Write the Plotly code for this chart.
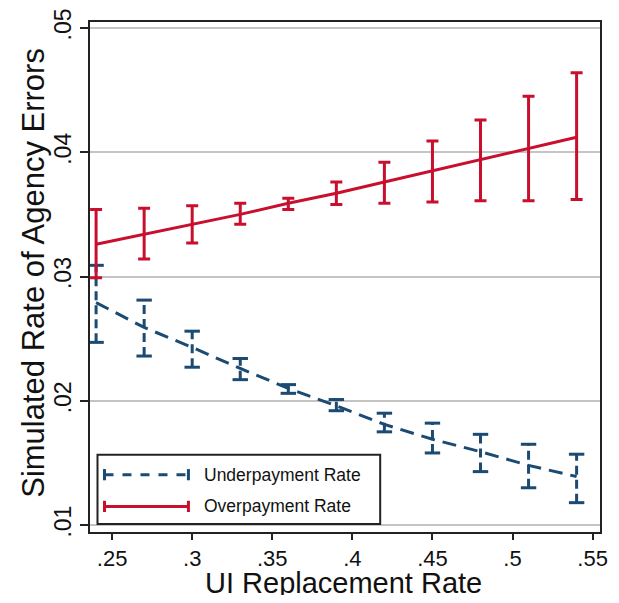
import plotly.graph_objects as go

# ---- data ----
replacement_rate = [0.24, 0.27, 0.30, 0.33, 0.36, 0.39, 0.42, 0.45, 0.48, 0.51, 0.54]

under_rate = [0.0279, 0.0259, 0.0243, 0.0226, 0.0210, 0.0196, 0.0181, 0.0169, 0.0159, 0.0148, 0.0139]
under_hi   = [0.0309, 0.0281, 0.0256, 0.0234, 0.0213, 0.0201, 0.0190, 0.0182, 0.0173, 0.0165, 0.0157]
under_lo   = [0.0247, 0.0236, 0.0227, 0.0217, 0.0206, 0.0192, 0.0175, 0.0158, 0.0143, 0.0130, 0.0118]

over_rate = [0.0326, 0.0334, 0.0342, 0.0350, 0.0359, 0.0367, 0.0376, 0.0385, 0.0394, 0.0403, 0.0412]
over_hi   = [0.0354, 0.0355, 0.0357, 0.0359, 0.0363, 0.0376, 0.0392, 0.0409, 0.0426, 0.0445, 0.0464]
over_lo   = [0.0299, 0.0314, 0.0327, 0.0342, 0.0354, 0.0358, 0.0359, 0.0360, 0.0361, 0.0361, 0.0362]

x_ticks = [0.25, 0.30, 0.35, 0.40, 0.45, 0.50, 0.55]
x_tick_labels = [".25", ".3", ".35", ".4", ".45", ".5", ".55"]
y_ticks = [0.01, 0.02, 0.03, 0.04, 0.05]
y_tick_labels = [".01", ".02", ".03", ".04", ".05"]

series_names = ["Underpayment Rate", "Overpayment Rate"]
x_title = "UI Replacement Rate"
y_title = "Simulated Rate of Agency Errors"

BLUE = "#1b4a72"
RED = "#c8102e"
FONT = "Liberation Sans"

fig = go.Figure()

# blue dashed error bars (vertical segments)
seg_x, seg_y = [], []
for xv, lo, hi in zip(replacement_rate, under_lo, under_hi):
    seg_x += [xv, xv, None]
    seg_y += [lo, hi, None]
fig.add_trace(go.Scatter(x=seg_x, y=seg_y, mode="lines",
                         line=dict(color=BLUE, width=3, dash="9px,5px"),
                         hoverinfo="skip", showlegend=False))
# blue caps
fig.add_trace(go.Scatter(x=replacement_rate + replacement_rate, y=under_hi + under_lo,
                         mode="markers",
                         marker=dict(symbol="line-ew", size=11, line=dict(color=BLUE, width=3)),
                         hoverinfo="skip", showlegend=False))
# blue dashed line
fig.add_trace(go.Scatter(x=replacement_rate, y=under_rate, mode="lines",
                         name=series_names[0],
                         line=dict(color=BLUE, width=3, dash="14px,8px"),
                         showlegend=False))

# red line with error bars
fig.add_trace(go.Scatter(
    x=replacement_rate, y=over_rate, mode="lines", name=series_names[1],
    line=dict(color=RED, width=3),
    error_y=dict(type="data", symmetric=False,
                 array=[h - v for h, v in zip(over_hi, over_rate)],
                 arrayminus=[v - l for v, l in zip(over_rate, over_lo)],
                 color=RED, thickness=3, width=6),
    showlegend=False))

# ---- manual legend (Stata style) ----
shapes = [dict(type="rect", xref="paper", yref="paper", x0=0.0147, x1=0.569, y0=0.0157, y1=0.1516,
               line=dict(color="#222222", width=2), fillcolor="white", layer="above")]
leg_rows = [(0.1124, BLUE, "dash"), (0.0502, RED, "solid")]
lx0, lx1 = 0.0284, 0.193
for yy, col, dsh in leg_rows:
    shapes.append(dict(type="line", xref="paper", yref="paper", x0=lx0, x1=lx1, y0=yy, y1=yy,
                       line=dict(color=col, width=3, dash=dsh), layer="above"))
    for xx in (lx0, lx1):
        shapes.append(dict(type="line", xref="paper", yref="paper", x0=xx, x1=xx,
                           y0=yy - 0.011, y1=yy + 0.011,
                           line=dict(color=col, width=3), layer="above"))
annotations = []
for (yy, col, dsh), name in zip(leg_rows, series_names):
    annotations.append(dict(xref="paper", yref="paper", x=0.2198, y=yy, text=name,
                            showarrow=False, xanchor="left", yanchor="middle",
                            font=dict(family=FONT, size=17.5, color="#111111")))
# axis titles
annotations.append(dict(xref="paper", yref="paper", x=0.497, y=-0.0994, text=x_title,
                        showarrow=False, xanchor="center", yanchor="middle",
                        font=dict(family=FONT, size=29, color="#111111")))
annotations.append(dict(xref="paper", yref="paper", x=-0.111, y=0.509, text=y_title,
                        showarrow=False, xanchor="center", yanchor="middle", textangle=-90,
                        font=dict(family=FONT, size=31, color="#111111")))

# page body has an 8px margin, so the figure is sized 16px smaller and offsets are shifted
fig.update_layout(
    width=603, height=587, autosize=False,
    margin=dict(l=81.5, r=11, t=14.3, b=62.7),
    plot_bgcolor="white", paper_bgcolor="white",
    font=dict(family=FONT, color="#111111"),
    shapes=shapes, annotations=annotations,
    showlegend=False,
)
fig.update_xaxes(
    range=[0.2362, 0.5546], tickmode="array", tickvals=x_ticks, ticktext=x_tick_labels,
    ticks="outside", ticklen=6, tickwidth=2, tickcolor="#222222",
    showline=True, mirror=True, linecolor="#222222", linewidth=2,
    showgrid=False, zeroline=False, automargin=False,
    tickfont=dict(family=FONT, size=22, color="#111111"),
)
fig.update_yaxes(
    range=[0.00944, 0.05048], tickmode="array", tickvals=y_ticks, ticktext=y_tick_labels,
    tickangle=-90,
    ticks="outside", ticklen=8, tickwidth=2, tickcolor="#222222",
    showline=True, mirror=True, linecolor="#222222", linewidth=2,
    showgrid=True, gridcolor="#c4c4c4", gridwidth=2, zeroline=False, automargin=False,
    tickfont=dict(family=FONT, size=23, color="#111111"),
)

fig.write_html("out.html")
